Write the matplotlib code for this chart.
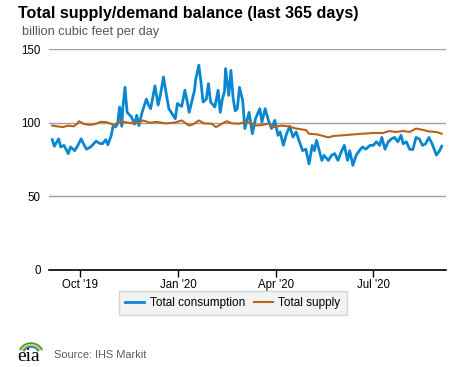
import numpy as np
import pandas as pd
import matplotlib
matplotlib.use("Agg")
import matplotlib.pyplot as plt
from matplotlib.patches import Arc

# data (billion cubic feet per day)
cons_dates = [
    "2019-09-05", "2019-09-07", "2019-09-11", "2019-09-13", "2019-09-16", "2019-09-20",
    "2019-09-22", "2019-09-26", "2019-09-29", "2019-10-02", "2019-10-05", "2019-10-07",
    "2019-10-11", "2019-10-16", "2019-10-19", "2019-10-22", "2019-10-25", "2019-10-27",
    "2019-10-30", "2019-11-01", "2019-11-03", "2019-11-05", "2019-11-07", "2019-11-09",
    "2019-11-10", "2019-11-12", "2019-11-14", "2019-11-18", "2019-11-21", "2019-11-23",
    "2019-11-25", "2019-11-28", "2019-12-02", "2019-12-04", "2019-12-06", "2019-12-10",
    "2019-12-13", "2019-12-15", "2019-12-18", "2019-12-20", "2019-12-23", "2019-12-27",
    "2019-12-29", "2019-12-31", "2020-01-04", "2020-01-07", "2020-01-09", "2020-01-11",
    "2020-01-14", "2020-01-16", "2020-01-17", "2020-01-20", "2020-01-22", "2020-01-24",
    "2020-01-27", "2020-01-29", "2020-01-31", "2020-02-04", "2020-02-07", "2020-02-09",
    "2020-02-11", "2020-02-13", "2020-02-14", "2020-02-17", "2020-02-19", "2020-02-21",
    "2020-02-23", "2020-02-25", "2020-02-27", "2020-03-01", "2020-03-03", "2020-03-07",
    "2020-03-10", "2020-03-13", "2020-03-17", "2020-03-19", "2020-03-22", "2020-03-25",
    "2020-03-28", "2020-03-31", "2020-04-03", "2020-04-05", "2020-04-08", "2020-04-11",
    "2020-04-14", "2020-04-17", "2020-04-20", "2020-04-23", "2020-04-26", "2020-04-29",
    "2020-05-02", "2020-05-05", "2020-05-07", "2020-05-09", "2020-05-12", "2020-05-14",
    "2020-05-16", "2020-05-20", "2020-05-23", "2020-05-26", "2020-05-29", "2020-06-01",
    "2020-06-04", "2020-06-07", "2020-06-09", "2020-06-12", "2020-06-15", "2020-06-18",
    "2020-06-21", "2020-06-24", "2020-06-28", "2020-07-01", "2020-07-04", "2020-07-07",
    "2020-07-09", "2020-07-12", "2020-07-15", "2020-07-18", "2020-07-21", "2020-07-24",
    "2020-07-27", "2020-07-29", "2020-08-01", "2020-08-04", "2020-08-07", "2020-08-10",
    "2020-08-13", "2020-08-16", "2020-08-19", "2020-08-22", "2020-08-25", "2020-08-27",
    "2020-08-29", "2020-09-01", "2020-09-03",
]
consumption = [
    88.5, 84, 89, 83.5, 84.6, 79,
    83.5, 81, 84.6, 89, 84.6, 82,
    83.5, 87.5, 86, 85.7, 88.5, 85,
    91, 98, 97, 99, 110.6, 97.5,
    110, 124, 107, 104, 99, 105,
    98, 107, 116, 112, 109.5, 125,
    112, 118.5, 131, 122, 109.5, 105,
    102.7, 113, 111, 122, 115, 107,
    116, 122, 129, 139, 127.6, 114,
    116, 126.5, 114, 110.6, 122, 107,
    116, 121, 136.7, 118.5, 135.5, 117,
    108, 109.5, 124, 115, 96, 107,
    92.5, 102.7, 109.5, 100.5, 109.5, 101.6,
    96, 101.6, 91.4, 93.7, 84.6, 92.5,
    97.5, 90.3, 93.7, 87, 81, 82,
    72, 84.6, 81, 88, 80, 74.4,
    77.8, 74.4, 77.8, 79, 74.4, 80,
    84.6, 74.4, 81, 71, 77.8, 81,
    83.5, 82, 84.6, 84.6, 87, 84.6,
    90, 82, 87, 89, 90, 87,
    91.4, 85.7, 87, 82, 81.7, 90,
    89, 84.6, 85.7, 90, 85.7, 82,
    78, 81, 84,
]

supply_dates = [
    "2019-09-05", "2019-09-10", "2019-09-15", "2019-09-20", "2019-09-25", "2019-09-28",
    "2019-09-30", "2019-10-05", "2019-10-10", "2019-10-15", "2019-10-20", "2019-10-25",
    "2019-10-29", "2019-11-02", "2019-11-08", "2019-11-15", "2019-11-20", "2019-11-25",
    "2019-11-29", "2019-12-05", "2019-12-12", "2019-12-20", "2019-12-28", "2020-01-04",
    "2020-01-11", "2020-01-15", "2020-01-20", "2020-01-25", "2020-02-01", "2020-02-05",
    "2020-02-10", "2020-02-15", "2020-02-20", "2020-02-27", "2020-03-03", "2020-03-08",
    "2020-03-13", "2020-03-20", "2020-03-25", "2020-03-30", "2020-04-06", "2020-04-13",
    "2020-04-20", "2020-04-29", "2020-05-02", "2020-05-10", "2020-05-20", "2020-05-25",
    "2020-06-02", "2020-06-12", "2020-06-21", "2020-07-01", "2020-07-10", "2020-07-16",
    "2020-07-22", "2020-07-29", "2020-08-04", "2020-08-10", "2020-08-17", "2020-08-22",
    "2020-08-29", "2020-09-03",
]
supply = [
    98, 97.5, 97, 98, 97.5, 99,
    101, 99, 98.5, 99, 100.5, 100.5,
    99.5, 98.5, 101, 100, 99.5, 100,
    101.5, 100, 100.5, 99.5, 100, 101.5,
    98, 99, 101.5, 99.5, 99.3, 97,
    99, 101, 99.5, 99.3, 100.5, 100,
    98, 98.5, 99.3, 97, 98, 97.5,
    96, 95, 92.5, 92, 90, 91,
    91.4, 92, 92.5, 93, 93, 94.3,
    93.7, 94.3, 93.7, 96, 95, 94,
    93.7, 92.5,
]

y_ticks = [0, 50, 100, 150]
x_ticks = ["2019-10-01", "2020-01-01", "2020-04-01", "2020-07-01"]
x_labels = ["Oct '19", "Jan '20", "Apr '20", "Jul '20"]

plt.rcParams["font.family"] = ["Liberation Sans", "DejaVu Sans"]

W, H = 477, 367
fig = plt.figure(figsize=(W / 100, H / 100), dpi=100)
ax = fig.add_axes([49 / W, 1 - 270 / H, 397 / W, 221 / H])

ax.plot(pd.to_datetime(cons_dates), consumption, color="#0a87d0", lw=2.0,
        label="Total consumption", zorder=3)
ax.plot(pd.to_datetime(supply_dates), supply, color="#b8621a", lw=1.5,
        label="Total supply", zorder=3)

ax.set_ylim(0, 150)
ax.set_xlim(pd.Timestamp("2019-09-02"), pd.Timestamp("2020-09-07"))
ax.set_yticks(y_ticks)
ax.set_xticks(pd.to_datetime(x_ticks))
ax.set_xticklabels(x_labels)
ax.grid(axis="y", color="#a0a0a0", lw=1)
ax.set_axisbelow(True)
for s in ["left", "right", "top"]:
    ax.spines[s].set_visible(False)
ax.spines["bottom"].set_color("black")
ax.spines["bottom"].set_linewidth(1.2)
ax.tick_params(axis="y", length=0, pad=6, labelsize=8.3)
ax.tick_params(axis="x", length=5, width=1, pad=1.5, labelsize=8.3)

fig.text(18 / W, 1 - 18 / H, "Total supply/demand balance (last 365 days)",
         fontsize=11.6, fontweight="bold", va="baseline")
fig.text(22 / W, 1 - 35 / H, "billion cubic feet per day", fontsize=9.2,
         color="#555560", va="baseline")

leg = ax.legend(loc="center", bbox_to_anchor=(233 / W, 1 - 303 / H),
                bbox_transform=fig.transFigure, ncol=2, frameon=True,
                fontsize=8.5, handlelength=1.6, columnspacing=0.7,
                handletextpad=0.5, borderpad=0.55, fancybox=False)
leg.get_frame().set_facecolor("#f0f0f0")
leg.get_frame().set_edgecolor("#cccccc")

# eia logo, drawn in pixel units in a small blank axes
lax = fig.add_axes([10 / W, 0, 40 / W, 32 / H])
lax.set_xlim(10, 50)
lax.set_ylim(367, 335)
lax.axis("off")
lax.text(29, 361, "eia", fontsize=14, family="Liberation Serif",
         ha="center", va="baseline")
for r, c in [(12, "#2e9e48"), (10, "#f2c21b"), (8, "#0a87d0")]:
    lax.add_patch(Arc((31, 354), 2 * r, 2 * r * 0.9, theta1=200, theta2=340,
                      color=c, lw=1.3))
fig.text(54 / W, 1 - 358 / H, "Source: IHS Markit", fontsize=7.9,
         color="#5a5a6e", va="baseline")

fig.savefig("out.png", dpi=100)
